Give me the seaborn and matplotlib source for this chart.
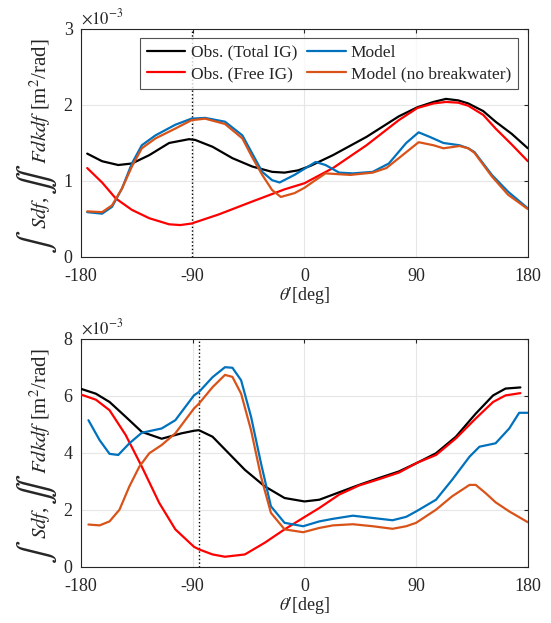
# --------------------------------------------------------------
# Importing Libraries
# --------------------------------------------------------------
import pandas as pd
import matplotlib.pyplot as plt
from matplotlib.transforms import IdentityTransform
import seaborn as sns

# --------------------------------------------------------------
# Data (values in units of 1e-3 m^2/rad)
# --------------------------------------------------------------
top_total_x = [-175, -163, -150, -139, -125, -109, -93, -88, -74, -58, -42, -26, -16, -5, 0,
               5, 23, 50, 76, 91, 104, 114, 124, 132, 144, 154, 167, 180]
top_total_y = [1.36, 1.26, 1.21, 1.23, 1.34, 1.50, 1.55, 1.54, 1.45, 1.30, 1.19, 1.12, 1.11, 1.14, 1.17,
               1.20, 1.34, 1.58, 1.85, 1.97, 2.04, 2.08, 2.06, 2.02, 1.92, 1.78, 1.62, 1.43]

top_free_x = [-175, -163, -152, -139, -125, -109, -100, -91, -69, -42, -16, 0,
              23, 50, 76, 91, 104, 114, 124, 132, 144, 154, 167, 180]
top_free_y = [1.17, 0.98, 0.77, 0.62, 0.51, 0.43, 0.42, 0.44, 0.56, 0.73, 0.89, 0.97,
              1.17, 1.47, 1.80, 1.96, 2.02, 2.04, 2.03, 1.99, 1.87, 1.69, 1.48, 1.26]

top_model_x = [-175, -163, -155, -147, -139, -131, -120, -104, -91, -80, -64, -50, -42, -34, -26, -20,
               -8, 0, 9, 17, 28, 39, 55, 68, 82, 92, 101, 112, 125, 132, 137, 151, 164, 180]
top_model_y = [0.59, 0.57, 0.66, 0.90, 1.23, 1.47, 1.60, 1.74, 1.82, 1.83, 1.78, 1.60, 1.36, 1.12, 1.01, 0.98,
               1.08, 1.16, 1.25, 1.21, 1.11, 1.10, 1.12, 1.23, 1.50, 1.64, 1.58, 1.50, 1.47, 1.43, 1.38, 1.08, 0.86, 0.64]

top_nobw_x = [-175, -163, -155, -147, -139, -131, -120, -104, -91, -80, -64, -50, -42, -34, -26, -19,
              -8, 0, 7, 17, 37, 55, 66, 76, 92, 104, 112, 125, 132, 137, 151, 164, 180]
top_nobw_y = [0.60, 0.59, 0.68, 0.90, 1.19, 1.43, 1.56, 1.69, 1.80, 1.82, 1.75, 1.56, 1.31, 1.08, 0.88, 0.79,
              0.84, 0.91, 0.99, 1.10, 1.08, 1.11, 1.17, 1.30, 1.51, 1.47, 1.43, 1.46, 1.43, 1.37, 1.06, 0.82, 0.63]

bot_total_x = [-180, -168, -157, -144, -131, -115, -99, -89, -85, -74, -61, -48, -32, -16, 0,
               12, 28, 44, 60, 76, 91, 106, 122, 138, 152, 162, 174]
bot_total_y = [6.25, 6.08, 5.79, 5.27, 4.74, 4.50, 4.69, 4.78, 4.80, 4.57, 3.99, 3.41, 2.83, 2.42, 2.30,
               2.36, 2.62, 2.88, 3.12, 3.35, 3.66, 3.99, 4.57, 5.38, 6.02, 6.26, 6.30]

bot_free_x = [-180, -168, -157, -144, -131, -117, -104, -89, -85, -74, -64, -48, -32, -16, 0,
              12, 28, 44, 60, 76, 91, 106, 122, 138, 152, 162, 174]
bot_free_y = [6.05, 5.87, 5.50, 4.63, 3.52, 2.25, 1.32, 0.71, 0.62, 0.44, 0.36, 0.44, 0.85, 1.32, 1.75,
              2.07, 2.54, 2.86, 3.08, 3.31, 3.66, 3.93, 4.51, 5.21, 5.79, 6.02, 6.10]

bot_model_x = [-174, -165, -157, -150, -141, -131, -115, -104, -89, -85, -74, -64, -58, -51, -43, -35, -27,
               -16, -1, 12, 23, 39, 55, 71, 82, 90, 106, 119, 133, 141, 154, 165, 173, 180]
bot_model_y = [5.15, 4.45, 3.97, 3.93, 4.34, 4.71, 4.86, 5.15, 6.02, 6.14, 6.66, 7.01, 6.99, 6.55, 5.27, 3.64, 2.13,
               1.55, 1.43, 1.60, 1.69, 1.80, 1.72, 1.64, 1.76, 1.95, 2.36, 3.06, 3.87, 4.22, 4.34, 4.86, 5.41, 5.41]

bot_nobw_x = [-174, -165, -157, -149, -141, -133, -125, -115, -104, -89, -85, -74, -64, -58, -51, -43, -35,
              -27, -16, -1, 12, 23, 39, 55, 71, 82, 90, 106, 119, 133, 138, 146, 154, 165, 180]
bot_nobw_y = [1.49, 1.46, 1.60, 2.01, 2.83, 3.52, 3.99, 4.28, 4.69, 5.56, 5.73, 6.31, 6.74, 6.67, 6.08, 4.80, 3.17,
              1.90, 1.32, 1.22, 1.37, 1.46, 1.50, 1.43, 1.34, 1.43, 1.55, 2.01, 2.48, 2.88, 2.88, 2.59, 2.27, 1.95, 1.57]

series_names = ["Obs. (Total IG)", "Obs. (Free IG)", "Model", "Model (no breakwater)"]
series_colors = ["#000000", "#FF0000", "#0072BD", "#D95319"]
x_ticks = [-180, -90, 0, 90, 180]
top_marker = -90.3
bot_marker = -84.7


def to_long(xs, ys):
    frames = []
    for name, x, y in zip(series_names, xs, ys):
        frames.append(pd.DataFrame({"theta": x, "value": y, "series": name}))
    return pd.concat(frames, ignore_index=True)


top_df = to_long([top_total_x, top_free_x, top_model_x, top_nobw_x],
                 [top_total_y, top_free_y, top_model_y, top_nobw_y])
bot_df = to_long([bot_total_x, bot_free_x, bot_model_x, bot_nobw_x],
                 [bot_total_y, bot_free_y, bot_model_y, bot_nobw_y])

# --------------------------------------------------------------
# Plot settings
# --------------------------------------------------------------
sns.set_style("white")
plt.rcParams["font.family"] = ["Liberation Serif", "DejaVu Serif"]
plt.rcParams["mathtext.fontset"] = "stix"
plt.rcParams["axes.unicode_minus"] = False

palette = dict(zip(series_names, series_colors))
fig = plt.figure(figsize=(5.51, 6.23), dpi=100)
ax_top = fig.add_axes([0.147, 0.5875, 0.811, 0.366])
ax_bot = fig.add_axes([0.147, 0.0899, 0.811, 0.366])

# ylabel pieces: big integral signs + normal text, stacked along the axis
ylabel_pieces = [
    (r"$\int$", 25),
    (r"$Sdf$, ", 15),
    (r"$\int\!\!\int$", 25),
    (r"$Fdkdf$ ", 15),
    (r"[m$^2$/rad]", 15),
]


def stacked_ylabel(ax, x_px):
    renderer = fig.canvas.get_renderer()
    texts = []
    total = 0
    for s, size in ylabel_pieces:
        t = fig.text(0, 0, s, rotation=90, rotation_mode="anchor", ha="left", va="baseline",
                     fontsize=size, color="#262626", transform=IdentityTransform())
        h = t.get_window_extent(renderer).height
        texts.append((t, h))
        total += h
    box = ax.get_window_extent(renderer)
    y = (box.y0 + box.y1) / 2 - total / 2 - 3
    for t, h in texts:
        t.set_position((x_px, y))
        y += h


for ax, df, ymax, yticks, marker in [
    (ax_top, top_df, 3, [0, 1, 2, 3], top_marker),
    (ax_bot, bot_df, 8, [0, 2, 4, 6, 8], bot_marker),
]:
    sns.lineplot(data=df, x="theta", y="value", hue="series", palette=palette,
                 estimator=None, sort=False, linewidth=1.6, legend=False, ax=ax, zorder=3)
    ax.axvline(marker, color="black", linestyle=":", linewidth=1.0, zorder=2)
    ax.set_xlim(-180, 180)
    ax.set_ylim(0, ymax)
    ax.set_xticks(x_ticks)
    ax.set_yticks(yticks)
    ax.grid(True, color="#e6e6e6", linewidth=0.8)
    ax.set_axisbelow(True)
    ax.tick_params(direction="in", length=3, top=True, right=True, labelsize=13,
                   colors="#262626")
    ax.tick_params(axis="x", pad=8)
    ax.tick_params(axis="y", pad=6)
    for s in ax.spines.values():
        s.set_color("#262626")
        s.set_linewidth(0.8)
    ax.set_xlabel("$\\theta$\u2032[deg]", fontsize=13, labelpad=0, color="#262626")
    ax.set_ylabel("")
    ax.text(0.0, 1.005, r"$\times10^{-3}$", transform=ax.transAxes, ha="left", va="bottom",
            fontsize=12, color="#262626")
    stacked_ylabel(ax, 46)

handles = [plt.Line2D([], [], color=c, linewidth=1.6) for c in series_colors]
leg = ax_top.legend(handles, series_names, ncol=2, loc="upper right", bbox_to_anchor=(0.978, 0.962),
                    borderaxespad=0, fontsize=12.5, frameon=True, fancybox=False, handlelength=2.2,
                    handletextpad=0.3, columnspacing=0.6, labelspacing=0.3, borderpad=0.4)
leg.get_frame().set_edgecolor("#262626")
leg.get_frame().set_linewidth(0.8)

plt.savefig("out.png", dpi=100)
